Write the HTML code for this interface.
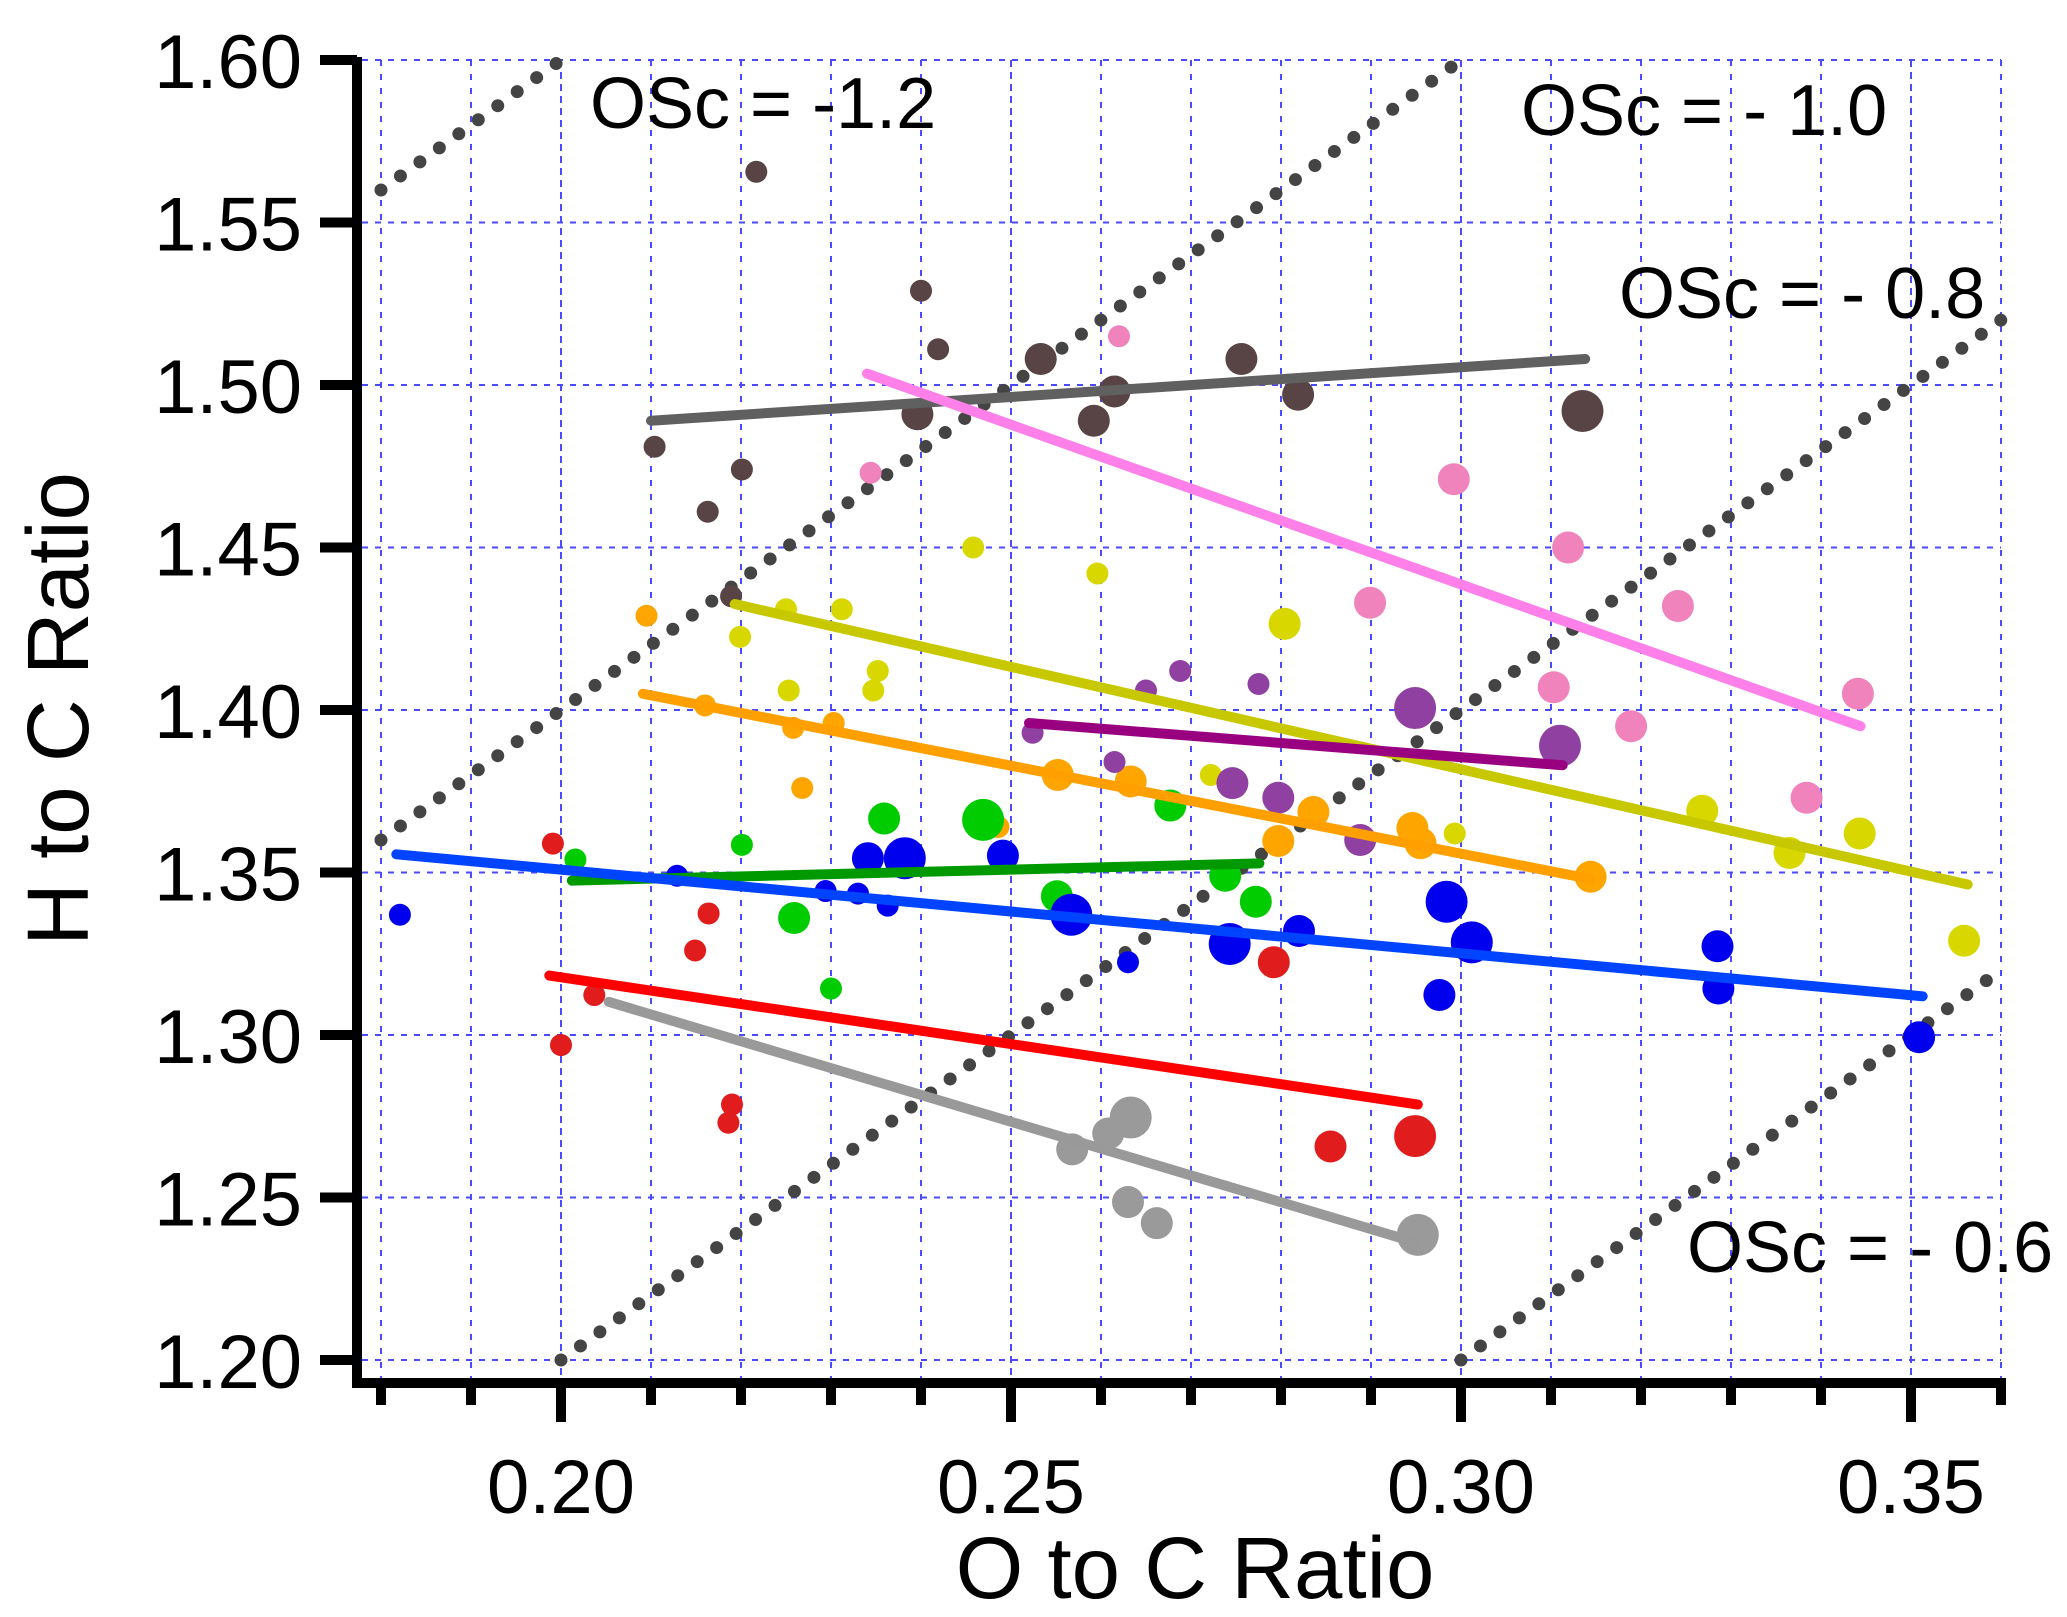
<!DOCTYPE html>
<html><head><meta charset="utf-8"><style>
html,body{margin:0;padding:0;background:#fff;}
svg{display:block;}
text{font-family:"Liberation Sans",Arial,sans-serif;fill:#000;}
</style></head><body>
<svg id="chart" width="2067" height="1617" viewBox="0 0 2067 1617" xmlns="http://www.w3.org/2000/svg">
<g id="grid"></g>
<g id="osc"></g>
<g id="pts"></g>
<g id="fits"></g>
<g id="axes"></g>
<text x="590" y="128" font-size="72">OSc = -1.2</text>
<text x="1521" y="135" font-size="72">OSc = - 1.0</text>
<text x="1619" y="318" font-size="72">OSc = - 0.8</text>
<text x="1687" y="1272" font-size="72">OSc = - 0.6</text>
<text x="1195" y="1598" font-size="87" text-anchor="middle">O to C Ratio</text>
<text transform="translate(88,709) rotate(-90)" font-size="87" text-anchor="middle">H to C Ratio</text>
</svg>
<script>
const xTicks=[0.20,0.25,0.30,0.35];
const xTickLabels=["0.20","0.25","0.30","0.35"];
const yTicks=[1.20,1.25,1.30,1.35,1.40,1.45,1.50,1.55,1.60];
const yTickLabels=["1.20","1.25","1.30","1.35","1.40","1.45","1.50","1.55","1.60"];
const oscValues=[-1.2,-1.0,-0.8,-0.6];
const groupNames=["brown","pink","yellow","orange","purple","green","blue","red","gray"];
const groupColors=["#584444","#f082bc","#d8d800","#ffa500","#9040a0","#00cc00","#0000ee","#e01c1c","#9a9a9a"];
const lineColors=["#606060","#ff80e8","#c8c800","#ffa000","#990080","#009900","#0044ff","#ff0000","#999999"];
const ptsOC=[
[0.2217,0.240,0.2419,0.2533,0.2615,0.2592,0.2396,0.2756,0.2819,0.3135,0.2104,0.2201,0.2163,0.2189],
[0.262,0.2344,0.2992,0.3119,0.2899,0.3241,0.3103,0.3189,0.3384,0.3441],
[0.2458,0.2596,0.225,0.2312,0.2199,0.2253,0.2352,0.2347,0.2804,0.2722,0.2993,0.3268,0.3365,0.3443,0.3559],
[0.2095,0.216,0.2258,0.2303,0.2268,0.2552,0.2633,0.2836,0.2797,0.2946,0.2955,0.3144,0.2486],
[0.2524,0.265,0.2688,0.2775,0.2615,0.2746,0.2797,0.2888,0.2949,0.311],
[0.2359,0.2469,0.2201,0.2016,0.2677,0.2738,0.2772,0.2551,0.2259,0.23],
[0.1821,0.2129,0.2294,0.2330,0.2363,0.2341,0.2382,0.2491,0.2567,0.263,0.2743,0.282,0.2984,0.3012,0.2976,0.3285,0.3286,0.3509],
[0.1991,0.2164,0.2149,0.2037,0.20,0.219,0.2186,0.2792,0.2855,0.2949],
[0.2568,0.2608,0.2633,0.263,0.2662,0.2952]];
const ptsHC=[
[1.5656,1.529,1.511,1.508,1.498,1.489,1.491,1.508,1.497,1.492,1.481,1.474,1.461,1.435],
[1.515,1.473,1.471,1.450,1.433,1.432,1.407,1.395,1.373,1.405],
[1.450,1.442,1.431,1.431,1.4225,1.406,1.412,1.406,1.4265,1.380,1.362,1.369,1.356,1.362,1.329],
[1.429,1.4014,1.3945,1.396,1.376,1.380,1.378,1.3686,1.3597,1.3637,1.359,1.3487,1.364],
[1.393,1.406,1.412,1.408,1.384,1.3775,1.373,1.360,1.4006,1.389],
[1.3666,1.3662,1.3585,1.354,1.3706,1.349,1.341,1.3427,1.336,1.3143],
[1.337,1.349,1.3443,1.3435,1.3398,1.3544,1.3544,1.3552,1.337,1.3224,1.328,1.332,1.341,1.3285,1.3123,1.3273,1.3143,1.2993],
[1.3589,1.3374,1.326,1.3123,1.2969,1.2786,1.273,1.3224,1.2657,1.2689],
[1.2648,1.2697,1.2746,1.2486,1.2421,1.2385]];
const ptsSize=[
[1,1,1,2,2,2,2,2,2,3,1,1,1,1],
[1,1,2,2,2,2,2,2,2,2],
[1,1,1,1,1,1,1,1,2,1,1,2,2,2,2],
[1,1,1,1,1,2,2,2,2,2,2,2,1],
[1,1,1,1,1,2,2,2,3,3],
[2,3,1,1,2,2,2,2,2,1],
[1,1,1,1,1,2,3,2,3,1,3,2,3,3,2,2,2,2],
[1,1,1,1,1,1,1,2,2,3],
[2,2,3,2,2,3]];
const fitX0=[0.21,0.234,0.2193,0.2091,0.252,0.2012,0.1817,0.1987,0.2053];
const fitY0=[1.489,1.5035,1.4326,1.405,1.396,1.3475,1.3556,1.3183,1.3102];
const fitX1=[0.3138,0.3444,0.3563,0.3144,0.3113,0.2776,0.3513,0.2952,0.2952];
const fitY1=[1.508,1.395,1.3463,1.348,1.383,1.3528,1.3119,1.2786,1.236];

const NS="http://www.w3.org/2000/svg";
const X=v=>561+(v-0.2)*9000;
const Y=v=>60+(1.6-v)*3250;
const xMin=0.18,xMax=0.36,yMin=1.20,yMax=1.60;
function mk(tag,attrs,parent){const e=document.createElementNS(NS,tag);for(const k in attrs)e.setAttribute(k,attrs[k]);parent.appendChild(e);return e;}
const grid=document.getElementById('grid');
for(let i=18;i<=36;i++){const v=i/100;
 const l=mk('line',{x1:X(v),x2:X(v),y1:Y(1.6),y2:1378,stroke:'#4a4aff','stroke-width':2,'stroke-dasharray':(i%5===0?'7 5':'6 8')},grid);
 
 }
yTicks.forEach(v=>{const l=mk('line',{x1:362,x2:X(0.36),y1:Y(v),y2:Y(v),stroke:'#4a4aff','stroke-width':2,'stroke-dasharray':'6 7'},grid);
 
 });
const osc=document.getElementById('osc');
oscValues.forEach(o=>{
 let xa=Math.max(xMin,(yMin+o)/2), xb=Math.min(xMax,(yMax+o)/2);
 const l=mk('line',{x1:X(xa),y1:Y(2*xa-o),x2:X(xb),y2:Y(2*xb-o),stroke:'#444','stroke-width':13,'stroke-linecap':'round','stroke-dasharray':'0 24'},osc);
 
 });
const pts=document.getElementById('pts');
const rad=[0,11,16,21];
ptsOC.forEach((arr,g)=>arr.forEach((v,i)=>{
 const c=mk('circle',{cx:X(v),cy:Y(ptsHC[g][i]),r:rad[ptsSize[g][i]],fill:groupColors[g]},pts);
 
 }));
const fits=document.getElementById('fits');
fitX0.forEach((v,g)=>{
 const l=mk('line',{x1:X(v),y1:Y(fitY0[g]),x2:X(fitX1[g]),y2:Y(fitY1[g]),stroke:lineColors[g],'stroke-width':10,'stroke-linecap':'round'},fits);
 
 });
const axes=document.getElementById('axes');
const ya=mk('line',{x1:357,x2:357,y1:Y(1.6)-3,y2:1388,stroke:'#000','stroke-width':10},axes);


const xa=mk('line',{x1:352,x2:X(0.36)+5,y1:1383,y2:1383,stroke:'#000','stroke-width':10},axes);


for(let i=18;i<=36;i++){const v=i/100;const major=(i%5===0);
 const t=mk('line',{x1:X(v),x2:X(v),y1:1383,y2:major?1422:1405,stroke:'#000','stroke-width':10},axes);
 
 }
xTicks.forEach((v,i)=>{const t=mk('text',{x:X(v),y:1513,'font-size':76,'text-anchor':'middle'},axes);t.textContent=xTickLabels[i];
 
 });
yTicks.forEach((v,i)=>{
 const t=mk('line',{x1:320,x2:357,y1:Y(v),y2:Y(v),stroke:'#000','stroke-width':10},axes);
 
 
 const s=mk('text',{x:302,y:Y(v)+28,'font-size':76,'text-anchor':'end'},axes);s.textContent=yTickLabels[i];
 
 });
</script>
</body></html>
